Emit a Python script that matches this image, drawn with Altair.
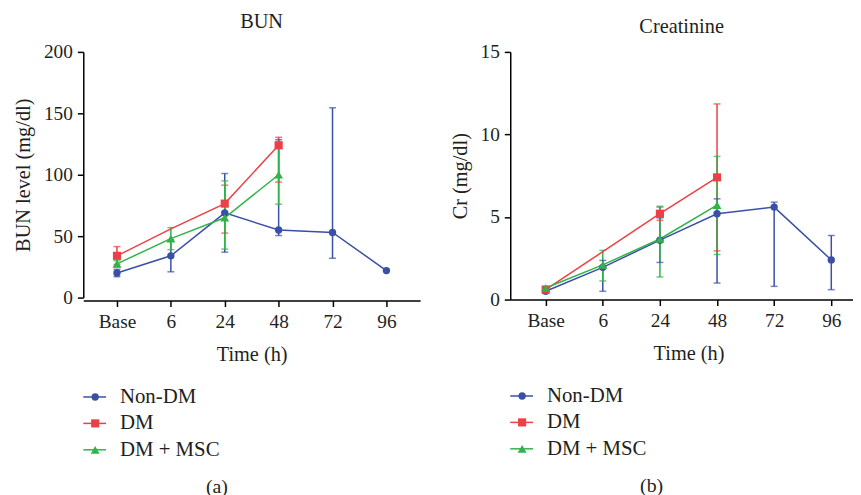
import altair as alt
import pandas as pd

time_labels = ["Base", "6", "24", "48", "72", "96"]
series_names = ["Non-DM", "DM", "DM + MSC"]
series_colors = ["#3a4fa6", "#eb4045", "#2fb34a"]
series_shapes = ["circle", "square", "triangle-up"]
series_sizes = [55, 80, 70]

# BUN (mg/dl): mean, lower and upper error-bar ends
bun_nondm_mean = [20, 34, 69, 55, 53, 22]
bun_nondm_low = [17, 21, 37, 50.5, 32, None]
bun_nondm_high = [23, 47, 101, 128.5, 154.5, None]
bun_dm_mean = [34, 56, 76.5, 124]
bun_dm_low = [27, None, 52.5, 94]
bun_dm_high = [41.5, None, 91.5, 130.5]
bun_msc_mean = [27.5, 48, 65, 100]
bun_msc_low = [25, 39, 39.5, 76]
bun_msc_high = [30, 57, 95, 125.5]

# Creatinine (mg/dl)
cr_nondm_mean = [0.5, 1.95, 3.6, 5.2, 5.6, 2.4]
cr_nondm_low = [0.4, 0.5, 2.25, 1.0, 0.8, 0.6]
cr_nondm_high = [0.6, 2.37, 4.95, 6.1, 5.9, 3.88]
cr_dm_mean = [0.6, 2.9, 5.2, 7.4]
cr_dm_low = [0.5, None, 4.8, 2.95]
cr_dm_high = [0.7, None, 5.6, 11.85]
cr_msc_mean = [0.7, 2.1, 3.67, 5.72]
cr_msc_low = [0.6, 1.13, 1.37, 2.73]
cr_msc_high = [0.8, 2.98, 5.65, 8.67]

# markers that the source figure leaves out (DM at 6 h)
hidden_markers = [("DM", "6")]

FONT = "Liberation Serif"
TEXT = "#231f20"


def make_df(means, lows, highs):
    rows = []
    for name, m, lo, hi in zip(series_names, means, lows, highs):
        for t, mv, lv, hv in zip(time_labels, m, lo, hi):
            rows.append(dict(series=name, time=t, mean=mv, low=lv, high=hv))
    return pd.DataFrame(rows)


color_enc = alt.Color("series:N", scale=alt.Scale(domain=series_names, range=series_colors), legend=None)
shape_enc = alt.Shape("series:N", scale=alt.Scale(domain=series_names, range=series_shapes), legend=None)
size_enc = alt.Size("series:N", scale=alt.Scale(domain=series_names, range=series_sizes), legend=None)

hide_expr = " && ".join(
    f"!(datum.series == '{s}' && datum.time == '{t}')" for s, t in hidden_markers
)


def panel(df, title, ytitle, ymax, yvals, width, height, x_scale, xoffset, title_offset,
          title_dx, xtitle_x):
    axis_y = alt.Axis(title=ytitle, values=yvals, grid=False, titlePadding=10)
    ysc = alt.Scale(domain=[0, ymax], nice=False)
    x = alt.X("time:N", sort=time_labels, scale=x_scale,
              axis=alt.Axis(title="Time (h)", labelAngle=0, offset=xoffset, grid=False,
                            titlePadding=14, labelPadding=6, titleX=xtitle_x))
    base = alt.Chart(df).encode(x=x, color=color_enc)
    valid = base.transform_filter("isValid(datum.low)")
    err = valid.mark_rule(strokeWidth=1.5).encode(
        y=alt.Y("low:Q", scale=ysc, axis=axis_y), y2="high:Q")
    cap_lo = valid.mark_tick(size=7, thickness=1.5).encode(y=alt.Y("low:Q", scale=ysc, axis=axis_y))
    cap_hi = valid.mark_tick(size=7, thickness=1.5).encode(y=alt.Y("high:Q", scale=ysc, axis=axis_y))
    line = base.transform_filter("isValid(datum.mean)").mark_line(strokeWidth=1.5).encode(
        y=alt.Y("mean:Q", scale=ysc, axis=axis_y), detail="series:N")
    pts = base.transform_filter("isValid(datum.mean)").transform_filter(hide_expr).mark_point(
        filled=True, opacity=1).encode(
        y=alt.Y("mean:Q", scale=ysc, axis=axis_y), shape=shape_enc, size=size_enc)
    return alt.layer(err, cap_lo, cap_hi, line, pts).properties(
        width=width, height=height,
        title=alt.Title(title, fontSize=20.5, font=FONT, fontWeight="normal", color=TEXT,
                        offset=title_offset, dx=title_dx))


def legend_chart():
    ldf = pd.DataFrame({"series": series_names})
    ly = alt.Y("series:N", sort=series_names, axis=None, scale=alt.Scale(type="point", padding=0.5))
    lb = alt.Chart(ldf).encode(y=ly, color=color_enc)
    r = lb.mark_rule(strokeWidth=1.5).encode(x=alt.value(0), x2=alt.value(23))
    p = lb.mark_point(filled=True, opacity=1).encode(x=alt.value(12), shape=shape_enc, size=size_enc)
    t = lb.mark_text(align="left", baseline="middle", font=FONT, fontSize=21).encode(
        x=alt.value(37), text="series:N", color=alt.value(TEXT))
    return alt.layer(r, p, t).properties(width=200, height=80)


bun_df = make_df([bun_nondm_mean, bun_dm_mean, bun_msc_mean],
                 [bun_nondm_low, bun_dm_low, bun_msc_low],
                 [bun_nondm_high, bun_dm_high, bun_msc_high])
cr_df = make_df([cr_nondm_mean, cr_dm_mean, cr_msc_mean],
                [cr_nondm_low, cr_dm_low, cr_msc_low],
                [cr_nondm_high, cr_dm_high, cr_msc_high])

left = panel(bun_df, "BUN", "BUN level (mg/dl)", 200, [0, 50, 100, 150, 200], 340, 248,
             alt.Scale(type="point", padding=0.625), 3, 10, 10, 170)
right = panel(cr_df, "Creatinine", "Cr (mg/dl)", 15, [0, 5, 10, 15], 346, 250,
              alt.Scale(type="point", padding=0.5, align=0.62), 0, 5, 0, 180)

cap = dict(orient="bottom", anchor="middle", fontSize=20, font=FONT, fontWeight="normal",
           color=TEXT, offset=14)
col_a = alt.vconcat(left, legend_chart(), spacing=19, title=alt.Title("(a)", **cap))
col_b = alt.vconcat(right, legend_chart(), spacing=19, title=alt.Title("(b)", **cap))

chart = alt.hconcat(col_a, col_b, spacing=30).properties(
    padding={"left": 5, "top": 1, "right": 0, "bottom": 0}, background="white"
).configure_view(stroke=None).configure_axis(
    labelFont=FONT, titleFont=FONT, labelFontSize=19.5, titleFontSize=20.5,
    titleFontWeight="normal", labelColor=TEXT, titleColor=TEXT,
    domainColor="#000000", tickColor="#000000", domainWidth=1.5, tickWidth=1.5, tickSize=6,
    labelPadding=5
)

chart.save("out.html", embed_options={"renderer": "svg", "actions": False})
